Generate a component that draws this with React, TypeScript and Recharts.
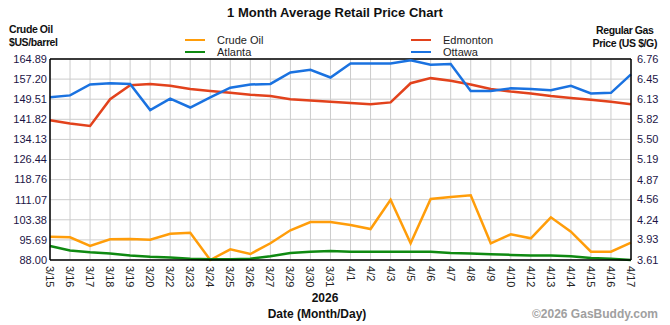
import React from 'react';
import {
    LineChart,
    Line,
    XAxis,
    YAxis,
    CartesianGrid,
    ReferenceLine
} from 'recharts';

const dates = ['3/15', '3/16', '3/17', '3/18', '3/19', '3/20', '3/22', '3/23', '3/24', '3/25', '3/26', '3/27', '3/29', '3/30', '3/31',
    '4/1', '4/2', '4/3', '4/5', '4/6', '4/7', '4/8', '4/9', '4/10', '4/12', '4/13', '4/14', '4/15', '4/16', '4/17'];

// crude oil, $US/barrel (left axis)
const crudeOil = [96.92, 96.68, 93.36, 95.92, 96.03, 95.77, 98.06, 98.44, 88.0, 92.09, 90.3, 94.39, 99.36, 102.54, 102.54,
    101.39, 99.86, 111.07, 94.39, 111.34, 112.1, 112.75, 94.39, 97.83, 96.3, 104.33, 98.83, 91.18, 91.18, 94.62];

// regular gas, US $/G (right axis)
const atlanta = [3.83, 3.76, 3.73, 3.71, 3.68, 3.66, 3.65, 3.63, 3.62, 3.62, 3.63, 3.67, 3.72, 3.74, 3.75,
    3.74, 3.74, 3.74, 3.74, 3.74, 3.72, 3.71, 3.7, 3.69, 3.68, 3.68, 3.67, 3.64, 3.63, 3.61];
const edmonton = [5.8, 5.75, 5.71, 6.13, 6.35, 6.37, 6.34, 6.29, 6.26, 6.23, 6.2, 6.18, 6.13, 6.11, 6.09,
    6.07, 6.05, 6.08, 6.38, 6.46, 6.42, 6.36, 6.29, 6.25, 6.22, 6.18, 6.15, 6.12, 6.09, 6.05];
const ottawa = [6.16, 6.19, 6.36, 6.38, 6.37, 5.96, 6.14, 6.0, 6.16, 6.31, 6.36, 6.37, 6.55, 6.59, 6.47,
    6.69, 6.69, 6.69, 6.74, 6.67, 6.68, 6.26, 6.26, 6.3, 6.29, 6.27, 6.34, 6.22, 6.23, 6.52];

const leftTicks = [88.0, 95.69, 103.38, 111.07, 118.76, 126.44, 134.13, 141.82, 149.51, 157.2, 164.89];
const rightTicks = [3.61, 3.93, 4.24, 4.56, 4.87, 5.19, 5.5, 5.82, 6.13, 6.45, 6.76];

const COLORS = {
    crude: '#ff9d0a',
    atlanta: '#0f8a12',
    edmonton: '#e2421c',
    ottawa: '#1a72e0'
};

const FONT = '"Liberation Sans", Arial, sans-serif';

const legendItems = [
    { name: 'Crude Oil', color: COLORS.crude, left: 185, top: 33 },
    { name: 'Atlanta', color: COLORS.atlanta, left: 185, top: 45 },
    { name: 'Edmonton', color: COLORS.edmonton, left: 411, top: 33 },
    { name: 'Ottawa', color: COLORS.ottawa, left: 411, top: 45 }
];

const chartData = dates.map((d, i) => ({
    date: d,
    crude: crudeOil[i],
    atlanta: atlanta[i],
    edmonton: edmonton[i],
    ottawa: ottawa[i]
}));

function DateTick(props: any) {
    const { x, y, payload } = props;
    return (
        <text
            x={x}
            y={y}
            dx={6}
            dy={4}
            transform={`rotate(90 ${x} ${y})`}
            textAnchor="start"
            fontSize={11}
            fontFamily={FONT}
            fill="#222"
        >
            {payload.value}
        </text>
    );
}

export default function App() {
    return (
        <div style={{ position: 'absolute', left: 0, top: 0, width: 670, height: 325, background: '#fff', fontFamily: FONT }}>
            <div style={{ position: 'absolute', left: 0, width: 670, top: 5, textAlign: 'center', fontSize: 13, fontWeight: 'bold', color: '#111' }}>
                1 Month Average Retail Price Chart
            </div>
            <div style={{ position: 'absolute', left: 9, top: 23, fontSize: 10.5, fontWeight: 'bold', lineHeight: '13px', letterSpacing: -0.4, color: '#111' }}>
                Crude Oil<br />$US/barrel
            </div>
            <div style={{ position: 'absolute', right: 13, top: 24, fontSize: 10.5, fontWeight: 'bold', lineHeight: '13px', letterSpacing: -0.4, textAlign: 'center', color: '#111' }}>
                Regular Gas<br />Price (US $/G)
            </div>
            {legendItems.map(item => (
                <div key={item.name} style={{ position: 'absolute', left: item.left, top: item.top, height: 13, display: 'flex', alignItems: 'center', fontSize: 11, color: '#222' }}>
                    <span style={{ display: 'inline-block', width: 20, height: 2, background: item.color, marginRight: 12 }} />
                    {item.name}
                </div>
            ))}
            <div style={{ position: 'absolute', left: 0, width: 650, top: 291, textAlign: 'center', fontSize: 12, fontWeight: 'bold', color: '#111' }}>
                2026
            </div>
            <div style={{ position: 'absolute', left: 0, width: 634, top: 307, textAlign: 'center', fontSize: 12, fontWeight: 'bold', color: '#111' }}>
                Date (Month/Day)
            </div>
            <div style={{ position: 'absolute', right: 12, top: 307, fontSize: 12, fontWeight: 'bold', color: '#a0a0a0' }}>
                ©2026 GasBuddy.com
            </div>
            <LineChart
                width={670}
                height={325}
                data={chartData}
                margin={{ top: 59, right: 0, left: 0, bottom: 0 }}
            >
                <CartesianGrid yAxisId="left" stroke="#cccccc" strokeWidth={1} />
                <XAxis
                    dataKey="date"
                    interval={0}
                    height={65}
                    tickLine={false}
                    tickSize={0}
                    tickMargin={0}
                    axisLine={{ stroke: '#000', strokeWidth: 1.5 }}
                    tick={<DateTick />}
                />
                <YAxis
                    yAxisId="left"
                    width={50}
                    domain={[88, 164.89]}
                    ticks={leftTicks}
                    interval={0}
                    tickFormatter={(v: number) => v.toFixed(2)}
                    tickLine={false}
                    tickSize={0}
                    tickMargin={3}
                    axisLine={{ stroke: '#000', strokeWidth: 1.5 }}
                    tick={{ fontSize: 11, fill: '#1c1446', fontFamily: FONT }}
                />
                <YAxis
                    yAxisId="right"
                    orientation="right"
                    width={39}
                    domain={[3.61, 6.76]}
                    ticks={rightTicks}
                    interval={0}
                    tickFormatter={(v: number) => v.toFixed(2)}
                    tickLine={false}
                    tickSize={0}
                    tickMargin={6}
                    axisLine={{ stroke: '#000', strokeWidth: 1.5 }}
                    tick={{ fontSize: 11, fill: '#1c1446', fontFamily: FONT }}
                />
                <ReferenceLine yAxisId="left" y={164.89} stroke="#000" strokeWidth={1.5} />
                <Line yAxisId="left" type="linear" dataKey="crude" name="Crude Oil" stroke={COLORS.crude} strokeWidth={2.5} dot={false} isAnimationActive={false} />
                <Line yAxisId="right" type="linear" dataKey="atlanta" name="Atlanta" stroke={COLORS.atlanta} strokeWidth={2.5} dot={false} isAnimationActive={false} />
                <Line yAxisId="right" type="linear" dataKey="edmonton" name="Edmonton" stroke={COLORS.edmonton} strokeWidth={2.5} dot={false} isAnimationActive={false} />
                <Line yAxisId="right" type="linear" dataKey="ottawa" name="Ottawa" stroke={COLORS.ottawa} strokeWidth={2.5} dot={false} isAnimationActive={false} />
            </LineChart>
        </div>
    );
}
